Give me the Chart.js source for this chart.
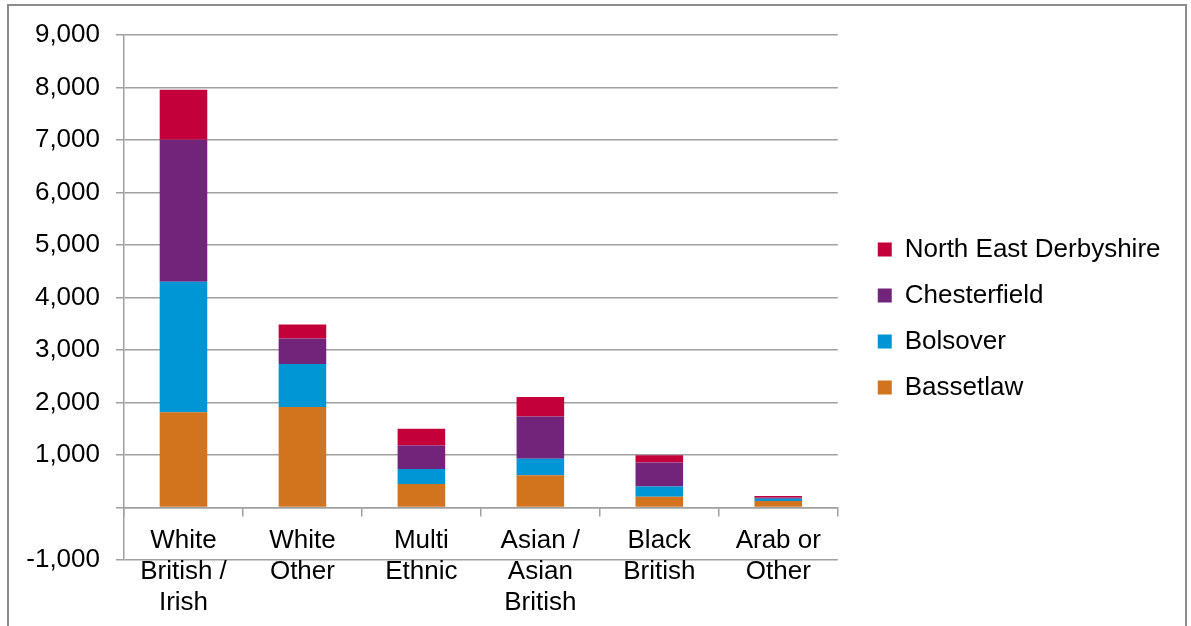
<!DOCTYPE html>
<html>
<head>
<meta charset="utf-8">
<script src="https://cdn.jsdelivr.net/npm/chart.js@4/dist/chart.umd.min.js"></script>
<style>
  html, body { margin: 0; padding: 0; background: #fff; overflow: hidden; }
  #wrap { position: relative; width: 1191px; height: 626px; overflow: hidden; }
  #frame { position: absolute; left: 7px; top: 4px; width: 1176px; height: 700px; border: 2px solid #8c8c8c; box-sizing: content-box; }
  #c { position: absolute; left: 0; top: 0; }
</style>
</head>
<body>
<div id="wrap">
  <div id="frame"></div>
  <canvas id="c" width="1191" height="626"></canvas>
</div>
<script>
const categories = [
  ['White', 'British /', 'Irish'],
  ['White', 'Other'],
  ['Multi', 'Ethnic'],
  ['Asian /', 'Asian', 'British'],
  ['Black', 'British'],
  ['Arab or', 'Other']
];
const bassetlaw = [1815, 1915, 450, 615, 205, 125];
const bolsover = [2485, 820, 285, 315, 195, 40];
const chesterfield = [2705, 485, 445, 805, 455, 25];
const northEastDerbyshire = [950, 265, 320, 370, 140, 30];
const yTicksMin = -1000;
const yTicksMax = 9000;
const yTickStep = 1000;

const FONT = '"Liberation Sans", Arial, Helvetica, sans-serif';
const GRID = '#a0a0a0';

const legendShift = {
  id: 'legendShift',
  afterLayout(chart) {
    const l = chart.legend;
    if (!l) return;
    l.left = chart.chartArea.right + 20;
    l.right = chart.width;
    l.width = l.right - l.left;
    l.top += 21; l.bottom += 21;
  }
};

new Chart(document.getElementById('c'), {
  type: 'bar',
  data: {
    labels: categories,
    datasets: [
      { label: 'Bassetlaw', data: bassetlaw, backgroundColor: '#d2731e' },
      { label: 'Bolsover', data: bolsover, backgroundColor: '#0096d6' },
      { label: 'Chesterfield', data: chesterfield, backgroundColor: '#72247a' },
      { label: 'North East Derbyshire', data: northEastDerbyshire, backgroundColor: '#c4003b' }
    ]
  },
  options: {
    responsive: false,
    animation: false,
    devicePixelRatio: 1,
    layout: { padding: { left: 0, top: 35, right: 74, bottom: 66 } },
    datasets: { bar: { categoryPercentage: 1, barPercentage: 0.4, borderWidth: 0 } },
    plugins: {
      tooltip: { enabled: false },
      legend: {
        position: 'right',
        reverse: true,
        labels: {
          boxWidth: 14,
          boxHeight: 14,
          padding: 20,
          color: '#000',
          font: { family: FONT, size: 26 }
        }
      }
    },
    scales: {
      x: {
        stacked: true,
        position: { y: 0 },
        offset: true,
        grid: { display: true, drawOnChartArea: false, drawTicks: true, tickLength: 8, color: GRID, lineWidth: 1.5, offset: true },
        border: { display: true, color: GRID, width: 1.5 },
        ticks: {
          color: '#000',
          padding: 10,
          maxRotation: 0,
          autoSkip: false,
          font: { family: FONT, size: 26, lineHeight: 1.19 }
        }
      },
      y: {
        stacked: true,
        min: yTicksMin,
        max: yTicksMax,
        afterFit(scale) { scale.width = 124; },
        grid: { color: GRID, lineWidth: 1.5, drawTicks: true, tickLength: 8 },
        border: { display: true, color: GRID, width: 1.5 },
        ticks: {
          stepSize: yTickStep,
          color: '#000',
          padding: 16,
          font: { family: FONT, size: 26 },
          callback: (v) => v === 0 ? '' : Number(v).toLocaleString('en-US')
        }
      }
    }
  },
  plugins: [legendShift]
});
</script>
</body>
</html>
